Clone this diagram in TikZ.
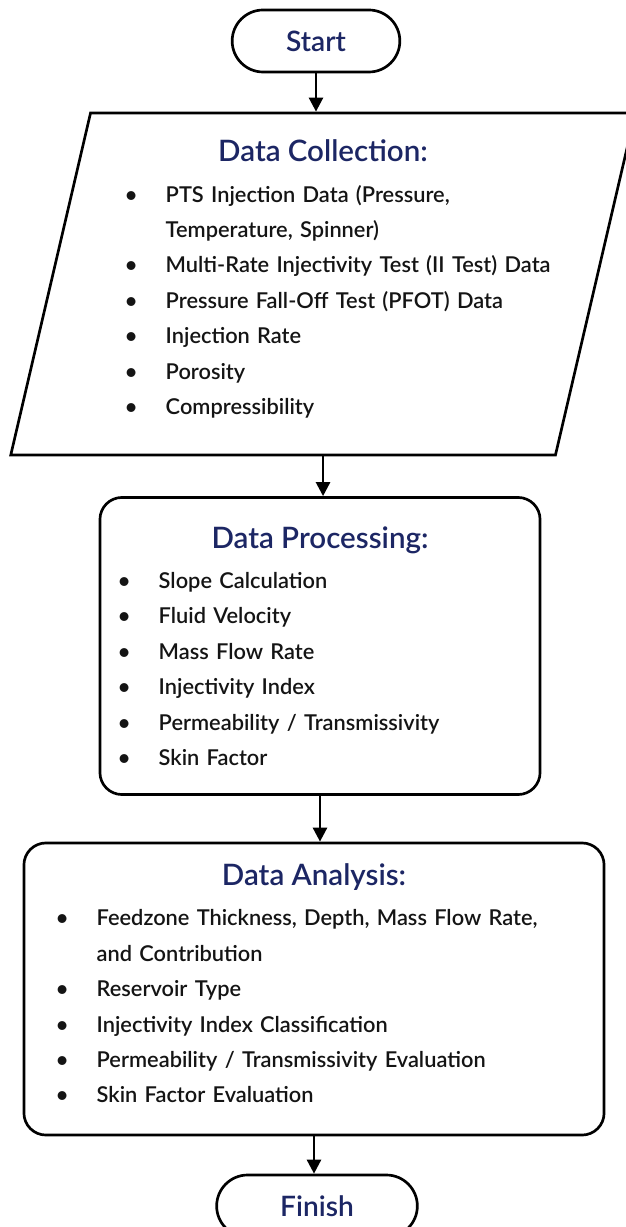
\documentclass[tikz,border=0pt]{standalone}
\usepackage{fontspec}
\setmainfont{Lato Semibold}
\usetikzlibrary{positioning,shapes.geometric,shapes.misc,arrows.meta}
\definecolor{navy}{RGB}{28,38,100}
\definecolor{ink}{RGB}{20,20,20}

\newcommand{\boxtitle}[1]{{\centering\color{navy}\fontsize{21}{24}\selectfont #1\par}\vspace{3.5pt}}
\newcommand{\itm}[1]{\par\hangindent=29pt\hangafter=1\noindent\makebox[29pt][l]{\textbullet}#1}
% extra room under the last line, lifts the text block
\newcommand{\lift}[1]{\par\vspace{#1}\hrule height 0pt width 0pt}

\begin{document}
\begin{tikzpicture}[x=0.025cm,y=-0.025cm,
terminal/.style={draw,rounded rectangle,line width=1.9pt,minimum height=1.55cm,
    text=navy,font=\fontsize{20}{24}\selectfont},
iobox/.style={draw,trapezium,trapezium left angle=75,trapezium right angle=105,
    trapezium stretches body,line width=1.9pt,minimum height=8.55cm,
    inner xsep=0.86cm,text width=9.9cm,align=left,text=ink,
    font=\fontsize{15.5}{25.2}\selectfont},
procbox/.style={draw,rectangle,rounded corners=0.55cm,line width=1.9pt,
    align=left,text=ink,font=\fontsize{15.5}{25.2}\selectfont},
arr/.style={-{Triangle[length=10pt,width=10pt]},line width=1.9pt}]
\useasboundingbox (0,0) rectangle (625,1227);

\node (start) [terminal,minimum width=4.425cm] at (316,41) {Start};

\node (collect) [iobox] at (323,284) {\boxtitle{Data Collection:}
\itm{PTS Injection Data (Pressure,\newline Temperature, Spinner)}
\itm{\mbox{Multi-Rate Injectivity Test (II Test) Data}}
\itm{Pressure Fall-Off Test (PFOT) Data}
\itm{Injection Rate}
\itm{Porosity}
\itm{Compressibility}\lift{7pt}};

\node (process) [procbox,minimum width=11cm,minimum height=7.425cm,
    inner xsep=0.45cm,text width=10.1cm] at (320,646) {\boxtitle{Data Processing:}
\itm{Slope Calculation}
\itm{Fluid Velocity}
\itm{Mass Flow Rate}
\itm{Injectivity Index}
\itm{Permeability / Transmissivity}
\itm{Skin Factor}};

\node (analyse) [procbox,minimum width=14.5cm,minimum height=7.3cm,
    inner xsep=0.8cm,text width=12.9cm] at (314,989) {\boxtitle{Data Analysis:}
\itm{Feedzone Thickness, Depth, Mass Flow Rate,\newline and Contribution}
\itm{Reservoir Type}
\itm{Injectivity Index Classification}
\itm{Permeability / Transmissivity Evaluation}
\itm{Skin Factor Evaluation}\lift{8pt}};

\node (finish) [terminal,minimum width=5.25cm] at (317,1206) {Finish};

% connectors kept vertical
\draw[arr] (start.south) -- (start.south |- collect.north);
\draw[arr] (collect.south) -- (collect.south |- process.north);
\draw[arr] (process.south) -- (process.south |- analyse.north);
\draw[arr] (analyse.south) -- (analyse.south |- finish.north);
\end{tikzpicture}
\end{document}
